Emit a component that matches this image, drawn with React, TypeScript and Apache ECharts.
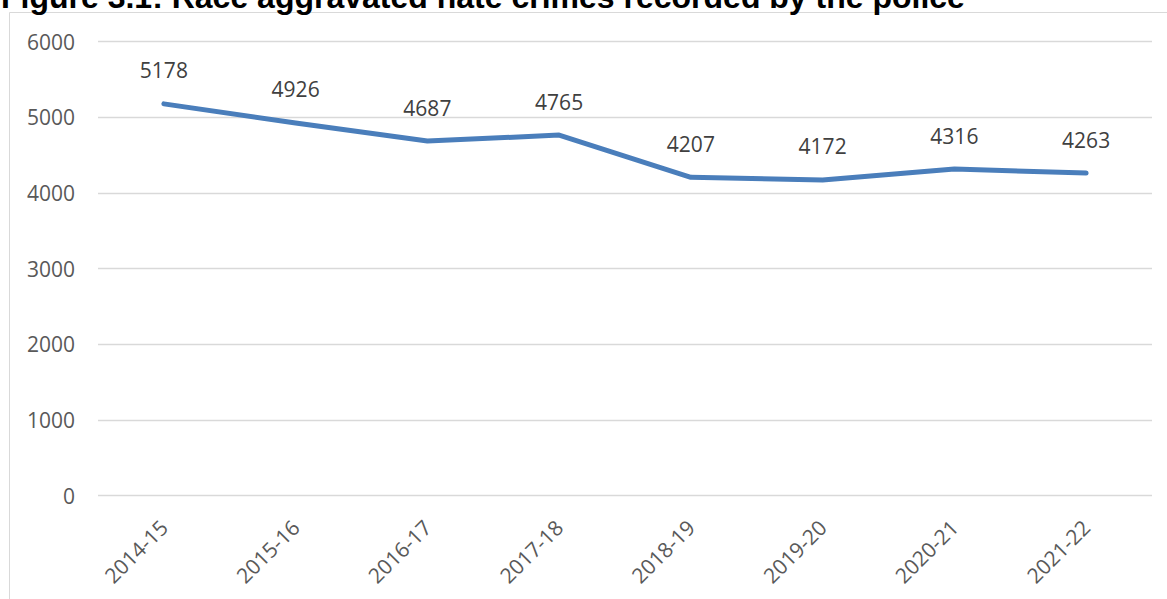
import React, { useEffect, useRef } from "react";
import * as echarts from "echarts";

const titleText = "Figure 3.1: Race aggravated hate crimes recorded by the police";
const categories = ["2014-15", "2015-16", "2016-17", "2017-18", "2018-19", "2019-20", "2020-21", "2021-22"];
const crimes = [5178, 4926, 4687, 4765, 4207, 4172, 4316, 4263];
const yMin = 0;
const yMax = 6000;
const yStep = 1000;

const FONT = '"Open Sans", "Noto Sans", sans-serif';

export default function App() {
  const ref = useRef<HTMLDivElement>(null);
  useEffect(() => {
    document.body.style.margin = "0";
    if (!ref.current) return;
    const chart = echarts.init(ref.current, undefined, { renderer: "svg" });
    chart.setOption({
      animation: false,
      backgroundColor: "#ffffff",
      graphic: [
        {
          type: "rect",
          z: 0,
          shape: { x: 9.5, y: 12.5, width: 1300, height: 800 },
          style: { fill: "none", stroke: "#d9d9d9", lineWidth: 1 },
        },
        {
          type: "text",
          z: 10,
          x: 1,
          y: -3,
          style: {
            text: titleText,
            font: 'bold 32px "Liberation Sans", Arial, sans-serif',
            fill: "#000000",
            align: "left",
            verticalAlign: "middle",
          },
        },
      ],
      grid: { left: 98, right: 15, top: 41.7, bottom: 103.5, containLabel: false },
      xAxis: {
        type: "category",
        data: categories,
        boundaryGap: true,
        axisLine: { show: false },
        axisTick: { show: false },
        axisLabel: {
          rotate: 45,
          margin: 28,
          fontSize: 21,
          fontFamily: FONT,
          color: "#595959",
          interval: 0,
        },
      },
      yAxis: {
        type: "value",
        min: yMin,
        max: yMax,
        interval: yStep,
        axisLine: { show: false },
        axisTick: { show: false },
        splitLine: { lineStyle: { color: "#d9d9d9", width: 1.3 } },
        axisLabel: {
          margin: 23,
          fontSize: 21,
          fontFamily: FONT,
          color: "#595959",
          formatter: (v: number) => String(v),
        },
      },
      series: [
        {
          type: "line",
          data: crimes,
          symbol: "circle",
          symbolSize: 2,
          showSymbol: true,
          itemStyle: { color: "#4a7ebb" },
          lineStyle: { color: "#4a7ebb", width: 5, cap: "round", join: "round" },
          label: {
            show: true,
            position: "top",
            distance: 22,
            fontSize: 21,
            fontFamily: FONT,
            color: "#404040",
            formatter: (p: any) => String(p.value),
          },
        },
      ],
    });
    return () => chart.dispose();
  }, []);
  return (
    <div
      ref={ref}
      style={{ position: "absolute", left: 0, top: 0, width: 1167, height: 599 }}
    />
  );
}
